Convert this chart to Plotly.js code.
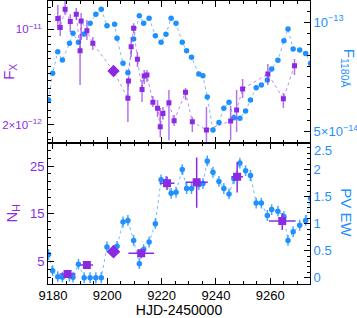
<!DOCTYPE html>
<html><head><meta charset="utf-8">
<script src="https://cdn.plot.ly/plotly-3.0.1.min.js"></script>
<style>html,body{margin:0;padding:0;background:#fff}#chart{width:357px;height:318px}</style>
</head><body><div id="chart"></div>
<script>
// ---- UV epochs (HJD-2450000), shared by F1180 and PV EW ----
const uvDay = [9178.4, 9179.9, 9181.8, 9183.5, 9186.1, 9187.4, 9189.4, 9191.5, 9193.7, 9195.8,
  9197.8, 9199.9, 9202.7, 9203.6, 9205.8, 9207.6, 9209.7, 9211.8, 9213.4, 9215.4,
  9217.7, 9219.8, 9221.6, 9223.5, 9225.3, 9227.6, 9229.2, 9231.0, 9233.7, 9235.2,
  9236.8, 9238.9, 9241.1, 9242.9, 9244.8, 9246.6, 9248.8, 9250.9, 9252.7, 9254.8,
  9256.7, 9258.9, 9260.5, 9262.8, 9265.0, 9266.5, 9268.4, 9270.8, 9273.0, 9274.8];
const f1180 = [6.11e-14, 7.24e-14, 8.30e-14, 7.87e-14, 8.75e-14, 9.33e-14, 8.81e-14, 9.29e-14, 9.94e-14, 1.052e-13,
  1.086e-13, 9.79e-14, 9.87e-14, 9.04e-14, 7.71e-14, 7.26e-14, 8.99e-14, 1.043e-13, 9.94e-14, 1.026e-13,
  9.18e-14, 8.81e-14, 9.27e-14, 1.026e-13, 9.94e-14, 8.81e-14, 8.35e-14, 8.01e-14, 7.21e-14, 7.13e-14,
  6.23e-14, 5.05e-14, 5.30e-14, 5.80e-14, 6.02e-14, 5.46e-14, 5.44e-14, 5.70e-14, 6.11e-14, 6.60e-14,
  6.72e-14, 6.93e-14, 7.44e-14, 7.86e-14, 8.90e-14, 9.58e-14, 8.44e-14, 8.39e-14, 8.21e-14, 7.71e-14];
const pvEW = [0.43, 0.13, 0.02, 0.01, 0.03, 0.01, 0.25, 0.00, 0.00, 0.00,
  0.00, 0.57, 0.50, 0.58, 1.03, 1.06, 0.69, 0.26, 0.52, 0.66,
  1.00, 1.81, 1.78, 1.56, 1.58, 2.00, 1.65, 1.65, 1.72, 1.74,
  2.16, 1.95, 1.78, 1.65, 1.55, 1.83, 2.12, 1.98, 1.89, 1.38,
  1.38, 1.15, 1.26, 1.23, 1.13, 0.69, 0.85, 0.97, 1.06, 1.47];
const pvErr = 0.1;

// ---- X-ray flux (squares) ----
const fxDay = [9181.8, 9182.7, 9184.5, 9186.4, 9188.6, 9190.0, 9190.4, 9192.5, 9194.7, 9207.6,
  9207.8, 9208.8, 9209.7, 9211.1, 9212.8, 9213.6, 9214.6, 9216.8, 9218.5, 9219.5,
  9220.5, 9222.7, 9224.6, 9228.8, 9231.3, 9236.5, 9245.4, 9247.6, 9249.8, 9259.1,
  9264.8, 9268.9];
const fx = [1.20e-11, 1.03e-11, 1.40e-11, 1.14e-11, 1.29e-11, 6.98e-12, 1.15e-11, 9.77e-12, 7.90e-12, 3.13e-12,
  4.19e-12, 7.46e-12, 1.02e-11, 6.04e-12, 3.64e-12, 4.56e-12, 4.64e-12, 2.93e-12, 2.65e-12, 1.94e-12,
  2.43e-12, 2.91e-12, 2.15e-12, 3.47e-12, 2.11e-12, 1.84e-12, 2.14e-12, 2.57e-12, 3.66e-12, 4.72e-12,
  3.11e-12, 5.42e-12];
const fxHi = [1.505e-11, 1.27e-11, 1.70e-11, 1.29e-11, 1.43e-11, 9.24e-12, 1.315e-11, 1.17e-11, 8.79e-12, 4.26e-12,
  4.48e-12, 8.79e-12, 1.11e-11, 6.83e-12, 4.26e-12, 5.04e-12, 5.04e-12, 3.26e-12, 3.04e-12, 2.66e-12,
  2.71e-12, 3.60e-12, 2.37e-12, 3.72e-12, 2.29e-12, 2.71e-12, 2.75e-12, 3.60e-12, 4.34e-12, 5.58e-12,
  3.42e-12, 6.07e-12];
const fxLo = [9.88e-12, 8.93e-12, 1.27e-11, 9.56e-12, 1.17e-11, 3.92e-12, 8.35e-12, 8.35e-12, 7.06e-12, 2.10e-12,
  3.79e-12, 6.28e-12, 9.40e-12, 5.30e-12, 2.94e-12, 3.98e-12, 4.12e-12, 2.71e-12, 2.29e-12, 1.63e-12,
  2.18e-12, 1.55e-12, 1.97e-12, 3.04e-12, 1.78e-12, 1.31e-12, 1.55e-12, 1.78e-12, 3.15e-12, 3.92e-12,
  2.66e-12, 4.64e-12];

// ---- diamond epoch ----
const dmDay = [9202.3];
const dmFx = [4.96e-12];
const dmNH = [7.09];

// ---- column density (squares, bottom panel) ----
const nhDay = [9185.4, 9192.5, 9212.5, 9222.0, 9232.9, 9247.8, 9264.4];
const nhDayErr = [2.9, 2.25, 4.7, 2.75, 4.1, 2.15, 4.9];
const nh = [2.43, 4.31, 6.76, 21.38, 21.59, 22.76, 13.5];
const nhErrUp = [0.6, 0.8, 1.0, 1.4, 5.2, 3.1, 1.7];
const nhErrDn = [0.6, 0.8, 1.0, 1.4, 5.3, 3.3, 1.9];

// ---- tick labels ----
const fxTickVals = [2e-12, 1e-11];
const fxTickText = ['2×10<sup>−12</sup>', '10<sup>−11</sup>'];
const uvTickVals = [5e-14, 1e-13];
const uvTickText = ['5×10<sup>−14</sup>', '10<sup>−13</sup>'];
const ewTickVals = [0, 0.5, 1, 1.5, 2];
const ewTickText = ['0', '0.5', '1', '1.5', '2'];
const ewTopLabel = '2.5';

const PURPLE = '#8a2be2', BLUE = '#1e90ff';
const FONT = 'Liberation Sans, Arial, Helvetica, sans-serif';

// line through X-ray points in time order (squares + diamond)
const allX = fxDay.map((d, i) => ({d: d, v: fx[i]})).concat(dmDay.map((d, i) => ({d: d, v: dmFx[i]})))
  .sort((a, b) => a.d - b.d);

// evenly spaced minor ticks on log axes (style only)
const fxMinor = [];
{ const st = Math.log10(5) / 13; for (let k = -4; k <= 16; k++) fxMinor.push(Math.pow(10, -11 - k * st)); }
const uvMinor = [];
{ const st = Math.log10(2) / 10; for (let k = -2; k <= 12; k++) uvMinor.push(Math.pow(10, -13 - k * st)); }

const traces = [
  {x: uvDay, y: f1180, xaxis: 'x2', yaxis: 'y3', mode: 'lines+markers', cliponaxis: true,
   line: {color: 'rgba(30,144,255,0.6)', width: 1, dash: 'dot'},
   marker: {color: BLUE, size: 5.5}},
  {x: allX.map(p => p.d), y: allX.map(p => p.v), xaxis: 'x2', yaxis: 'y4', mode: 'lines',
   line: {color: 'rgba(138,43,226,0.55)', width: 1, dash: 'dot'}},
  {x: fxDay, y: fx, xaxis: 'x2', yaxis: 'y4', mode: 'markers',
   marker: {color: PURPLE, symbol: 'square', size: 5},
   error_y: {type: 'data', symmetric: false, array: fx.map((v, i) => fxHi[i] - v),
     arrayminus: fx.map((v, i) => v - fxLo[i]), color: 'rgba(138,43,226,0.65)', thickness: 1.5, width: 0}},
  {x: dmDay, y: dmFx, xaxis: 'x2', yaxis: 'y4', mode: 'markers',
   marker: {color: PURPLE, symbol: 'diamond', size: 9.5}},
  {x: uvDay, y: pvEW, xaxis: 'x', yaxis: 'y', mode: 'lines+markers',
   line: {color: 'rgba(30,144,255,0.6)', width: 1, dash: 'dot'},
   marker: {color: BLUE, size: 5.5},
   error_y: {type: 'constant', value: pvErr, color: 'rgba(30,144,255,0.8)', thickness: 1.5, width: 0}},
  {x: nhDay, y: nh, xaxis: 'x', yaxis: 'y2', mode: 'markers',
   marker: {color: PURPLE, symbol: 'square', size: 8},
   error_x: {type: 'data', array: nhDayErr, color: PURPLE, thickness: 1.5, width: 0},
   error_y: {type: 'data', symmetric: false, array: nhErrUp, arrayminus: nhErrDn, color: PURPLE, thickness: 1.5, width: 0}},
  {x: dmDay, y: dmNH, xaxis: 'x', yaxis: 'y2', mode: 'markers',
   marker: {color: PURPLE, symbol: 'diamond', size: 10.5}}
];

const xCommon = {range: [9178.2, 9274.6], tick0: 9180, dtick: 20, ticks: 'inside', ticklen: 6, tickcolor: 'black',
  showline: true, mirror: 'ticks', linecolor: 'black', linewidth: 1, showgrid: false, zeroline: false,
  minor: {tick0: 9180, dtick: 5, ticks: 'inside', ticklen: 3, tickcolor: 'black'}};
const yCommon = {ticks: 'inside', ticklen: 6, tickcolor: 'black', showline: true, linecolor: 'black', linewidth: 1,
  showgrid: false, zeroline: false};

const layout = {
  width: 357, height: 318,
  margin: {l: 48, r: 47, t: 1, b: 34},
  showlegend: false,
  paper_bgcolor: 'white', plot_bgcolor: 'white',
  font: {family: FONT, size: 13, color: 'black'},
  xaxis: Object.assign({}, xCommon, {domain: [0, 1], anchor: 'y',
    tickfont: {size: 13, color: 'black'}, ticklabelstandoff: -1,
    title: {text: 'HJD-2450000', font: {size: 14, color: 'black'}, standoff: 1}}),
  xaxis2: Object.assign({}, xCommon, {matches: 'x', anchor: 'y3', showticklabels: false}),
  yaxis: Object.assign({}, yCommon, {domain: [0, 0.5], anchor: 'x', side: 'right', range: [-0.116, 2.5],
    tickmode: 'array', tickvals: ewTickVals, ticktext: ewTickText, tickfont: {size: 13, color: BLUE},
    minor: {tick0: 0, dtick: 0.1, ticks: 'inside', ticklen: 3, tickcolor: 'black'}}),
  yaxis2: Object.assign({}, yCommon, {overlaying: 'y', anchor: 'x', side: 'left', range: [0.34, 29.91],
    tick0: 5, dtick: 10, tickfont: {size: 13, color: PURPLE},
    minor: {tick0: 5, dtick: 10 / 6, ticks: 'inside', ticklen: 3, tickcolor: 'black'},
    title: {text: 'N<sub>H</sub>', font: {size: 15, color: PURPLE}, standoff: 8}}),
  yaxis3: Object.assign({}, yCommon, {domain: [0.5, 1], anchor: 'x2', side: 'right', type: 'log',
    range: [-13.3311, -12.9413], tickmode: 'array', tickvals: uvTickVals, ticktext: uvTickText,
    tickfont: {size: 13, color: BLUE},
    minor: {tickmode: 'array', tickvals: uvMinor, ticks: 'inside', ticklen: 3, tickcolor: 'black'}}),
  yaxis4: Object.assign({}, yCommon, {overlaying: 'y3', anchor: 'x2', side: 'left', type: 'log',
    range: [-11.827, -10.793], tickmode: 'array', tickvals: fxTickVals, ticktext: fxTickText,
    tickfont: {size: 11.5, color: PURPLE}, ticklabelstandoff: 3,
    minor: {tickmode: 'array', tickvals: fxMinor, ticks: 'inside', ticklen: 3, tickcolor: 'black'},
    title: {text: 'F<sub>X</sub>', font: {size: 15, color: PURPLE}, standoff: 4}}),
  annotations: [
    {text: ewTopLabel, xref: 'paper', yref: 'y', x: 1, y: 2.5, xshift: 2, yshift: -8,
     showarrow: false, xanchor: 'left', yanchor: 'middle', font: {size: 13, color: BLUE, family: FONT}},
    {text: 'F<sub>1180Å</sub>', xref: 'paper', yref: 'paper', x: 1, y: 0.75, xshift: 38, yshift: 4,
     showarrow: false, textangle: 90, font: {size: 15, color: BLUE, family: FONT}, xanchor: 'center', yanchor: 'middle'},
    {text: 'PV EW', xref: 'paper', yref: 'paper', x: 1, y: 0.25, xshift: 37, yshift: 1,
     showarrow: false, textangle: 90, font: {size: 15, color: BLUE, family: FONT}, xanchor: 'center', yanchor: 'middle'}
  ]
};

Plotly.newPlot('chart', traces, layout, {displayModeBar: false, staticPlot: true});
</script>
</body></html>
